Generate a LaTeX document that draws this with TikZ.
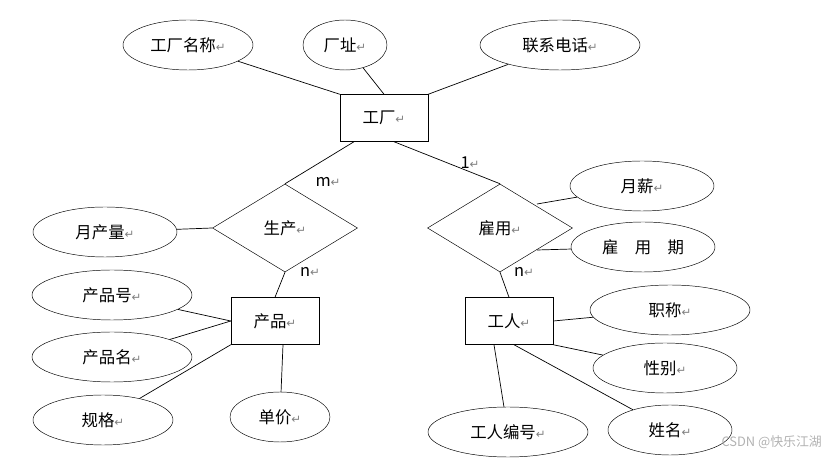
\documentclass[tikz,border=0pt]{standalone}
\usepackage{fontspec}
\setmainfont{Noto Sans CJK SC}
\newfontfamily\symf{DejaVu Sans}
\usetikzlibrary{shapes.geometric}
\newcommand{\rt}{{\symf\color{gray}\fontsize{10}{10}\selectfont ↵}}
\begin{document}
\begin{tikzpicture}[x=0.03cm,y=-0.03cm,font=\fontsize{14}{16}\selectfont,
  ell/.style={draw,ellipse,minimum height=50*0.03cm,inner sep=0pt},
  ent/.style={draw,rectangle,minimum width=88*0.03cm,minimum height=47*0.03cm,inner sep=0pt},
  rel/.style={draw,diamond,minimum width=145*0.03cm,minimum height=88*0.03cm,inner sep=0pt,aspect=1.6},
  ln/.style={draw,line width=0.6pt}]
\useasboundingbox (0,0) rectangle (836,461);
\node[ell,minimum width=130*0.03cm] (gcmc) at (188,45) {工厂名称\rt};
\node[ell,minimum width=84*0.03cm] (cz) at (345,45) {厂址\rt};
\node[ell,minimum width=160*0.03cm] (lxdh) at (560,45) {联系电话\rt};
\node[ent] (gc) at (384,118) {工厂\rt};
\node[rel] (sc) at (285,228) {生产\rt};
\node[rel] (gy) at (500,228) {雇用\rt};
\node[ell,minimum width=144*0.03cm] (ycl) at (105,232) {月产量\rt};
\node[ell,minimum width=144*0.03cm] (yx) at (642,186) {月薪\rt};
\node[ell,minimum width=144*0.03cm] (gyq) at (643,247) {雇\quad 用\quad 期};
\node[ent] (cp) at (275,321) {产品\rt};
\node[ent] (gr) at (509,321) {工人\rt};
\node[ell,minimum width=160*0.03cm] (cph) at (112,295) {产品号\rt};
\node[ell,minimum width=160*0.03cm] (cpm) at (112,357) {产品名\rt};
\node[ell,minimum width=140*0.03cm] (gg) at (103,420) {规格\rt};
\node[ell,minimum width=100*0.03cm] (dj) at (280,417) {单价\rt};
\node[ell,minimum width=160*0.03cm] (zc) at (670,310) {职称\rt};
\node[ell,minimum width=144*0.03cm] (xb) at (665,368) {性别\rt};
\node[ell,minimum width=160*0.03cm] (grbh) at (508,432) {工人编号\rt};
\node[ell,minimum width=124*0.03cm] (xm) at (670,430) {姓名\rt};
\draw[ln] (gcmc) -- (gc.north west);
\draw[ln] (cz) -- (gc.north);
\draw[ln] (lxdh) -- (gc.north east);
\draw[ln] (gc.south) ++(-30,0) coordinate (g1) -- (sc.north);
\draw[ln] (gc.south) ++(10,0) coordinate (g2) -- (gy.north);
\draw[ln] (ycl) -- (sc.west);
\draw[ln] (sc.south) -- (cp.north);
\draw[ln] (gy.south) -- (gr.north);
\coordinate (y1) at (537,204); \coordinate (y2) at (537,250);
\draw[ln] (y1) -- (yx);
\draw[ln] (y2) -- (gyq);
\draw[ln] (cph) -- (cp.west);
\draw[ln] (cpm) -- (cp.west);
\draw[ln] (gg) -- (cp.south west);
\draw[ln] (dj) -- ([xshift=8*0.03cm]cp.south);
\draw[ln] (zc) -- (gr.east);
\draw[ln] (xb) -- (gr.south east);
\draw[ln] (xm) -- ([xshift=5*0.03cm]gr.south);
\draw[ln] (grbh) -- ([xshift=-15*0.03cm]gr.south);
\node (lm) at (328,182) {m\rt};
\node (l1) at (470,163) {1\rt};
\node (ln1) at (310,272) {n\rt};
\node (ln2) at (524,272) {n\rt};
\node[text=gray!60,font=\fontsize{11}{12}\selectfont,anchor=east] (wm) at (826,442) {CSDN @快乐江湖};
\end{tikzpicture}
\end{document}
